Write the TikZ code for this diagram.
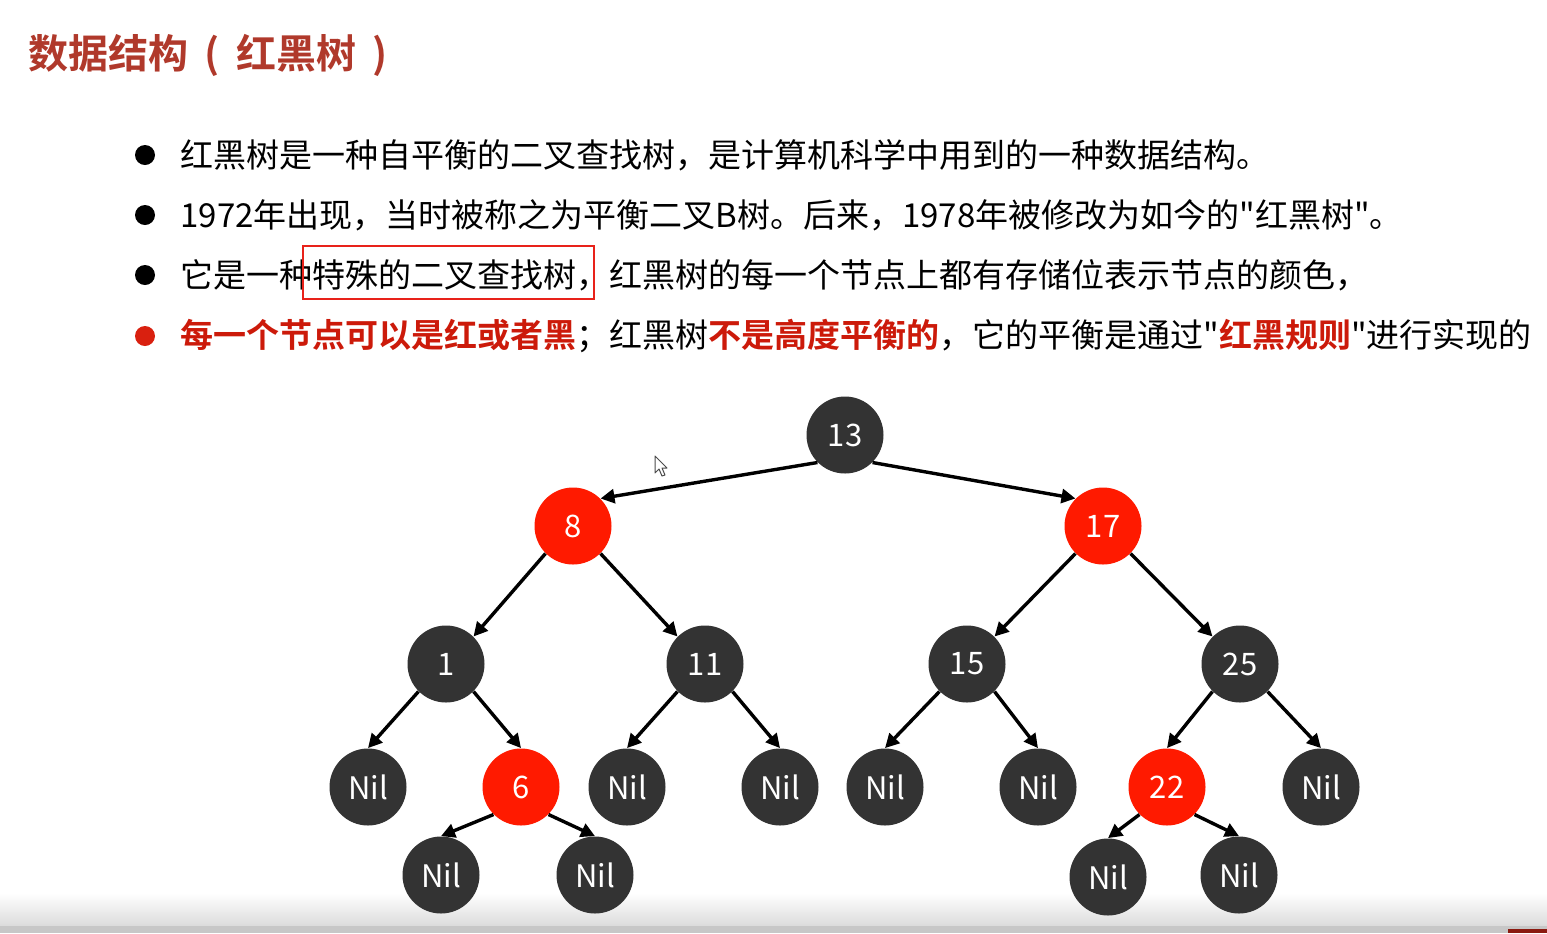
\documentclass[tikz,border=0pt]{standalone}
\usepackage{fontspec}
\setmainfont{Noto Sans CJK SC}[BoldFont={Noto Sans CJK SC Bold}, Ligatures=TeXOff]
\usetikzlibrary{arrows.meta}
\definecolor{nodegray}{HTML}{333333}
\definecolor{nodered}{HTML}{FF1A00}
\definecolor{titlered}{HTML}{B0392B}
\definecolor{boldred}{HTML}{CC1A0A}
\definecolor{boxred}{HTML}{E8221A}
\definecolor{bulletred}{HTML}{D9200F}
\definecolor{barred}{HTML}{8B1A10}
\begin{document}
\begin{tikzpicture}[x=0.5pt,y=-0.5pt,
  rbnode/.style={circle, minimum size=38.5pt, inner sep=0pt, text=white,
    font=\fontsize{15.5}{18}\selectfont},
  blacknode/.style={rbnode, fill=nodegray},
  rednode/.style={rbnode, fill=nodered},
  link/.style={-{Triangle[length=7pt,width=7pt]}, line width=1.7pt, black},
  textline/.style={anchor=west, inner sep=0pt, font=\fontsize{16.5}{20}\selectfont},
  bulletdot/.style={circle, inner sep=0pt, minimum size=10pt},
  hlbox/.style={draw=boxred, line width=1.3pt}
]
\fill[white] (0,0) rectangle (1547,933);
\useasboundingbox (0,0) rectangle (1547,933);

% bottom strip of the screenshot
\shade[top color=white, bottom color=black!14] (0,893) rectangle (1547,926);
\fill[black!22] (0,926) rectangle (1547,933);
\fill[barred] (1508,929) rectangle (1547,933);

% title
\node[anchor=west, inner sep=0pt, text=titlered,
  font=\fontsize{20}{24}\selectfont\bfseries] (title) at (28,55)
  {数据结构\makebox[24pt][c]{(}红黑树\makebox[24pt][c]{)}};

% bullets
\node[bulletdot, fill=black] (b1) at (145,155) {};
\node[bulletdot, fill=black] (b2) at (145,215) {};
\node[bulletdot, fill=black] (b3) at (145,275) {};
\node[bulletdot, fill=bulletred] (b4) at (145,336) {};

\node[textline] (t1) at (180,155) {红黑树是一种自平衡的二叉查找树，是计算机科学中用到的一种数据结构。};
\node[textline] (t2) at (180,215) {1972年出现，当时被称之为平衡二叉B树。后来，1978年被修改为如今的"红黑树"。};
\node[textline] (t3) at (180,275) {它是一种特殊的二叉查找树，红黑树的每一个节点上都有存储位表示节点的颜色，};
\node[textline] (t4) at (180,336) {{\color{boldred}\bfseries 每一个节点可以是红或者黑}；红黑树{\color{boldred}\bfseries 不是高度平衡的}，它的平衡是通过"{\color{boldred}\bfseries 红黑规则}"进行实现的};

\draw[hlbox] (303,246) rectangle (594,299);

% tree nodes
\node[blacknode] (n13) at (845,435) {13};
\node[rednode]   (n8)  at (573,526) {8};
\node[rednode]   (n17) at (1103,526) {17};
\node[blacknode] (n1)  at (446,664) {1};
\node[blacknode] (n11) at (705,664) {11};
\node[blacknode] (n15) at (967,664) {15};
\node[blacknode] (n25) at (1240,664) {25};
\node[blacknode] (nilA) at (368,787) {Nil};
\node[rednode]   (n6)   at (521,787) {6};
\node[blacknode] (nilB) at (627,787) {Nil};
\node[blacknode] (nilC) at (780,787) {Nil};
\node[blacknode] (nilD) at (885,787) {Nil};
\node[blacknode] (nilE) at (1038,787) {Nil};
\node[rednode]   (n22)  at (1167,787) {22};
\node[blacknode] (nilF) at (1321,787) {Nil};
\node[blacknode] (nilG) at (441,875) {Nil};
\node[blacknode] (nilH) at (595,875) {Nil};
\node[blacknode] (nilI) at (1108,877) {Nil};
\node[blacknode] (nilJ) at (1239,875) {Nil};

% connectors
\draw[link] (n13.225) -- (n8.45);
\draw[link] (n13.-45) -- (n17.135);
\draw[link] (n8.225) -- (n1.45);
\draw[link] (n8.-45) -- (n11.135);
\draw[link] (n17.225) -- (n15.45);
\draw[link] (n17.-45) -- (n25.135);
\draw[link] (n1.225) -- (nilA.north);
\draw[link] (n1.-45) -- (n6.north);
\draw[link] (n11.225) -- (nilB.north);
\draw[link] (n11.-45) -- (nilC.north);
\draw[link] (n15.225) -- (nilD.north);
\draw[link] (n15.-45) -- (nilE.north);
\draw[link] (n25.225) -- (n22.north);
\draw[link] (n25.-45) -- (nilF.north);
\draw[link] (n6.225) -- (nilG.north);
\draw[link] (n6.-45) -- (nilH.north);
\draw[link] (n22.225) -- (nilI.north);
\draw[link] (n22.-45) -- (nilJ.north);

% mouse pointer
\draw[fill=white, draw=black!70, line width=0.5pt, line join=round]
  (655,456) -- (655,473) -- (659,469) -- (662,476) -- (665,475) -- (662,468) -- (667,468) -- cycle;
\end{tikzpicture}
\end{document}
